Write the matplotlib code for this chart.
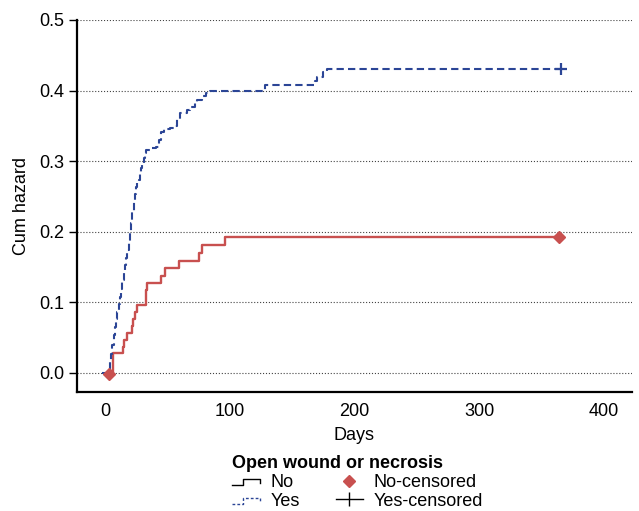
import matplotlib
matplotlib.use("Agg")
import matplotlib.pyplot as plt
from matplotlib.lines import Line2D
from matplotlib.legend_handler import HandlerBase

plt.rcParams['font.family'] = ['Liberation Sans', 'DejaVu Sans']

# cumulative hazard, step curves (value holds from t onward)
no_days = [3.5, 6.7, 14.1, 15.5, 17.3, 21.3, 22.7, 24, 25.3, 32.8, 33.9, 44.8, 48, 59.5, 75.5, 77.9, 96, 364]
no_haz = [0.0, 0.028, 0.037, 0.046, 0.057, 0.066, 0.076, 0.087, 0.096, 0.117, 0.127, 0.137, 0.148, 0.158, 0.170, 0.181, 0.192, 0.192]

yes_days = [-2.5, 3, 4, 5, 6, 7, 8, 9, 10, 11, 12, 13, 14, 15, 16, 17, 18, 19, 20,
            21, 22, 23, 24, 25, 26, 27, 28, 29, 30, 31, 32, 33, 36, 41, 43, 45, 47,
            52, 56, 58, 60, 66, 68, 72, 74, 78, 81, 84, 96, 128, 168, 170, 175, 178, 365]
yes_haz = [0.0, 0.005, 0.016, 0.027, 0.04, 0.054, 0.065, 0.076, 0.087, 0.097, 0.108, 0.119, 0.131, 0.142, 0.153, 0.163, 0.174, 0.186, 0.2,
           0.213, 0.228, 0.242, 0.253, 0.263, 0.269, 0.274, 0.282, 0.29, 0.298, 0.305, 0.311, 0.316, 0.318, 0.32, 0.33, 0.341, 0.345,
           0.347, 0.35, 0.36, 0.368, 0.372, 0.377, 0.382, 0.387, 0.392, 0.396, 0.399, 0.4, 0.408, 0.414, 0.419, 0.426, 0.43, 0.43]

# censored points
no_cens_days = [3.5, 364]
no_cens_haz = [-0.002, 0.192]
yes_cens_days = [365]
yes_cens_haz = [0.43]

red = '#c8504f'
blue = '#2b4596'


class StepHandler(HandlerBase):
    def create_artists(self, legend, orig_handle, xdescent, ydescent, width, height, fontsize, trans):
        w, h = width, height
        xs = [-xdescent, -xdescent + 0.4 * w, -xdescent + 0.4 * w, -xdescent + w, -xdescent + w]
        ys = [-ydescent + 0.15 * h, -ydescent + 0.15 * h, -ydescent + 0.6 * h, -ydescent + 0.6 * h, -ydescent + 0.35 * h]
        ln = Line2D(xs, ys)
        ln.update_from(orig_handle)
        ln.set_transform(trans)
        return [ln]


fig = plt.figure(figsize=(6.39, 5.11), dpi=100)
ax = fig.add_axes([0.1205, 0.2329, 0.868, 0.728])

ax.plot(no_days, no_haz, drawstyle='steps-post', color=red, lw=1.7)
ax.plot(yes_days, yes_haz, drawstyle='steps-post', color=blue, lw=1.5, ls=(0, (3.5, 2)))
ax.plot(no_cens_days, no_cens_haz, 'D', color=red, ms=6.5, ls='none')
ax.plot(yes_cens_days, yes_cens_haz, '+', color=blue, ms=9, mew=1.6, ls='none')

ax.set_xlim(-22.4, 422)
ax.set_ylim(-0.027, 0.5)
ax.set_xticks([0, 100, 200, 300, 400])
ax.set_yticks([0.0, 0.1, 0.2, 0.3, 0.4, 0.5])
ax.set_yticklabels(['0.0', '0.1', '0.2', '0.3', '0.4', '0.5'])
ax.tick_params(axis='x', length=0, labelsize=13, pad=8)
ax.tick_params(axis='y', length=6, width=1, labelsize=13, pad=3)
ax.yaxis.grid(True, ls=':', color='#444444', lw=0.8)
ax.set_axisbelow(True)
for s in ['top', 'right']:
    ax.spines[s].set_visible(False)
for s in ['left', 'bottom']:
    ax.spines[s].set_linewidth(1.6)

ax.set_xlabel('Days', fontsize=13, labelpad=5)
ax.set_ylabel('Cum hazard', fontsize=13, labelpad=7)

h_no = Line2D([], [], color='black', lw=1)
h_yes = Line2D([], [], color=blue, lw=1, ls=(0, (2, 1.5)))
h_no_c = Line2D([], [], color=red, marker='D', ms=6.5, ls='none')
h_yes_c = Line2D([], [], color='black', lw=1, marker='|', ms=10, mew=1)

leg = fig.legend([h_no, h_yes, h_no_c, h_yes_c], ['No', 'Yes', 'No-censored', 'Yes-censored'],
                 ncol=2, loc='upper center', bbox_to_anchor=(0.56, 0.127),
                 frameon=False, fontsize=13, title='Open wound or necrosis',
                 title_fontproperties={'weight': 'bold', 'size': 13},
                 alignment='left', handlelength=1.5, handletextpad=0.6,
                 columnspacing=2.0, labelspacing=0.1, borderpad=0.0,
                 handler_map={h_no: StepHandler(), h_yes: StepHandler()})

fig.savefig('out.png', dpi=100)
